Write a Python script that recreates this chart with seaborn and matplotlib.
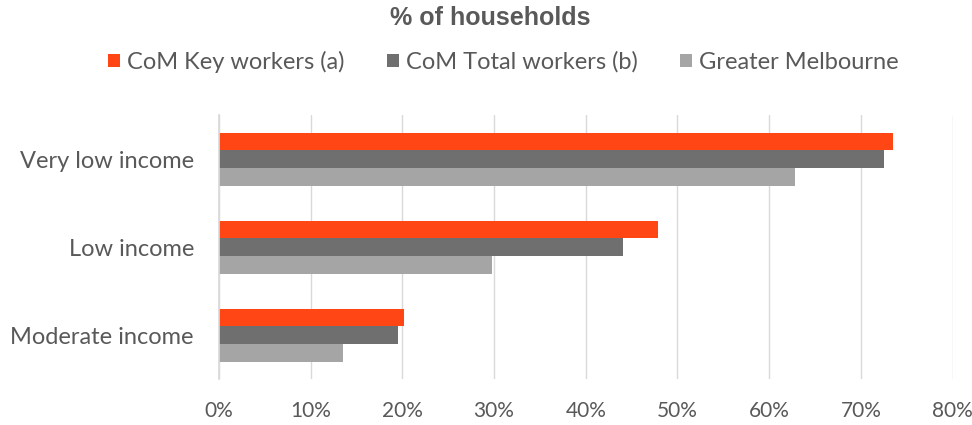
import matplotlib
matplotlib.use("Agg")
import matplotlib.pyplot as plt
from matplotlib.patches import Patch
import seaborn as sns
import pandas as pd

categories = ["Very low income", "Low income", "Moderate income"]
series = ["CoM Key workers (a)", "CoM Total workers (b)", "Greater Melbourne"]
key_workers = [73.5, 47.9, 20.2]
total_workers = [72.5, 44.1, 19.5]
greater_melbourne = [62.8, 29.8, 13.5]
x_ticks = [0, 10, 20, 30, 40, 50, 60, 70, 80]
x_tick_labels = ["0%", "10%", "20%", "30%", "40%", "50%", "60%", "70%", "80%"]
colors = ["#FF4614", "#6F6F6F", "#A5A5A5"]

df = pd.DataFrame({
    "category": categories * 3,
    "series": [series[0]] * 3 + [series[1]] * 3 + [series[2]] * 3,
    "value": key_workers + total_workers + greater_melbourne,
})

sns.set_theme(style="white")
plt.rcParams["font.family"] = ["Lato", "DejaVu Sans"]

fig = plt.figure(figsize=(9.72, 4.25), dpi=100)
ax = fig.add_axes([0.2253, 0.108, 0.7547, 0.621])

sns.barplot(data=df, y="category", x="value", hue="series", order=categories,
            hue_order=series, palette=colors, orient="h", width=0.6,
            saturation=1, linewidth=0, ax=ax, legend=False)

ax.set_xlim(0, 80)
ax.set_ylim(2.5, -0.5)
ax.set_xticks(x_ticks)
ax.set_xticklabels(x_tick_labels)
ax.set_xlabel("")
ax.set_ylabel("")
ax.grid(axis="x", color="#D9D9D9", linewidth=1)
ax.set_axisbelow(True)
for s in ["top", "right", "bottom"]:
    ax.spines[s].set_visible(False)
ax.spines["left"].set_color("#D9D9D9")
ax.tick_params(axis="both", length=0, colors="#595959")
ax.tick_params(axis="x", labelsize=15, pad=16)
ax.tick_params(axis="y", labelsize=17, pad=18)

fig.text(0.504, 0.957, "% of households", ha="center", va="center",
         fontsize=18, fontweight="bold", color="#595959",
         family=["Liberation Sans", "DejaVu Sans"])

handles = [Patch(facecolor=c, edgecolor="none") for c in colors]
fig.legend(handles, series, loc="center", bbox_to_anchor=(0.518, 0.855), ncol=3,
           frameon=False, fontsize=17, handlelength=0.5, handleheight=0.5,
           handletextpad=0.3, columnspacing=1.8, labelcolor="#595959")

fig.savefig("out.png", dpi=100)
